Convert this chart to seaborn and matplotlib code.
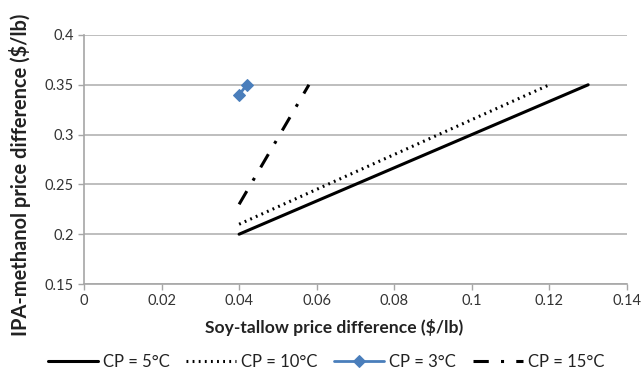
import numpy as np
import pandas as pd
import seaborn as sns
import matplotlib.pyplot as plt

# values
cp5_x = [0.04, 0.13]
cp5_y = [0.20, 0.35]
cp10_x = [0.04, 0.12]
cp10_y = [0.21, 0.35]
cp3_x = [0.04, 0.042]
cp3_y = [0.34, 0.35]
cp15_x = [0.04, 0.058]
cp15_y = [0.23, 0.35]
labels = ['CP = 5°C', 'CP = 10°C', 'CP = 3°C', 'CP = 15°C']

sns.set_theme(style='white')
plt.rcParams['font.family'] = ['Lato', 'DejaVu Sans']

fig = plt.figure(figsize=(6.43, 3.73), dpi=100)
ax = fig.add_axes([0.1306, 0.2386, 0.8444, 0.6676])

sns.lineplot(x=cp5_x, y=cp5_y, ax=ax, color='black', lw=2.2, label=labels[0])
sns.lineplot(x=cp10_x, y=cp10_y, ax=ax, color='black', lw=2.2, label=labels[1])
ax.lines[-1].set_linestyle((0, (0.6, 1.4)))
sns.lineplot(x=cp3_x, y=cp3_y, ax=ax, color='#4a7ebb', lw=2, marker='D',
             markersize=6.5, markeredgecolor='#4a7ebb', label=labels[2])
sns.lineplot(x=cp15_x, y=cp15_y, ax=ax, color='black', lw=2.2, label=labels[3])
ax.lines[-1].set_linestyle((0, (5, 4, 1, 4)))

ax.set_xlim(0, 0.14)
ax.set_ylim(0.15, 0.4)
ax.set_xticks(np.arange(0, 0.141, 0.02))
ax.set_yticks(np.arange(0.15, 0.401, 0.05))
ax.set_xticklabels(['0', '0.02', '0.04', '0.06', '0.08', '0.1', '0.12', '0.14'])
ax.set_yticklabels(['0.15', '0.2', '0.25', '0.3', '0.35', '0.4'])
ax.tick_params(axis='both', labelsize=10.5, colors='#333333', length=4,
               width=1, direction='out', bottom=True, left=True)
for s in ['left', 'bottom']:
    ax.spines[s].set_color('#a6a6a6')
    ax.spines[s].set_linewidth(1.2)
for s in ['top', 'right']:
    ax.spines[s].set_visible(False)
ax.tick_params(axis='both', color='#a6a6a6')
ax.yaxis.grid(True, color='#b3b3b3', lw=1.2)
ax.set_axisbelow(True)

xl = ax.set_xlabel('Soy-tallow price difference ($/lb)', fontsize=12, fontweight='bold',
                   color='#222222')
yl = ax.set_ylabel('IPA-methanol price difference ($/lb)', fontsize=12, fontweight='bold',
                   color='#222222')

# fit label sizes to the reference's pixel lengths
r = fig.canvas.get_renderer()
w = xl.get_window_extent(r).width
xl.set_fontsize(12 * 256 / w)
h = yl.get_window_extent(r).height
yl.set_fontsize(12 * 321 / h)
ax.xaxis.set_label_coords(0.46, -0.14)
ax.yaxis.set_label_coords(-0.097, 0.438)

leg = ax.legend(loc='center', ncol=4, frameon=False, fontsize=12,
                handlelength=3.0, columnspacing=1.0, handletextpad=0.3)
leg.set_bbox_to_anchor((326 / 643, 1 - 362 / 373), transform=fig.transFigure)
for t in leg.get_texts():
    t.set_color('#222222')

fig.savefig('out.png', dpi=100)
